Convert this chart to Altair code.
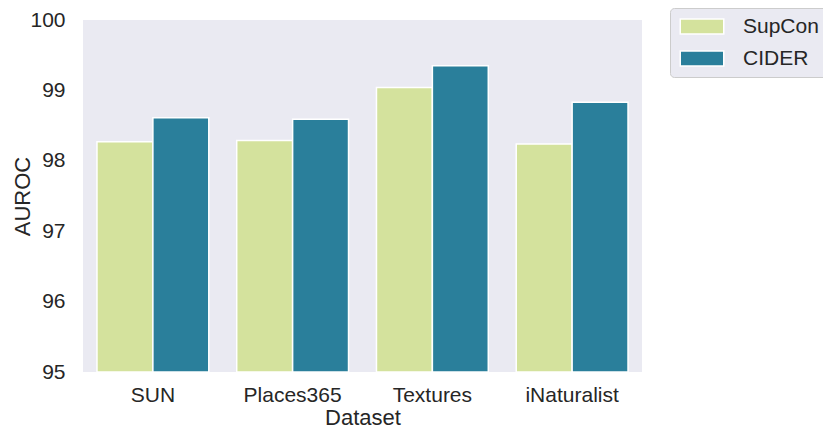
import altair as alt
import pandas as pd

datasets = ["SUN", "Places365", "Textures", "iNaturalist"]
methods = ["SupCon", "CIDER"]
supcon = [98.27, 98.29, 99.04, 98.24]
cider = [98.61, 98.59, 99.35, 98.83]
y_ticks = [95, 96, 97, 98, 99, 100]
colors = ["#d4e29d", "#2a7f9b"]

rows = []
for d, s, c in zip(datasets, supcon, cider):
    rows.append({"Dataset": d, "Method": "SupCon", "AUROC": s})
    rows.append({"Dataset": d, "Method": "CIDER", "AUROC": c})
df = pd.DataFrame(rows)

W, H = 559, 352
TOP = 12
FONT = "Liberation Sans"

chart = alt.Chart(df).mark_bar(stroke="white", strokeWidth=1.5).encode(
    x=alt.X("Dataset:N", sort=datasets,
            scale=alt.Scale(paddingInner=0.2, paddingOuter=0.1),
            axis=alt.Axis(title="Dataset", labelAngle=0, ticks=False, domain=False,
                          labelFontSize=21, titleFontSize=22, labelPadding=12,
                          titlePadding=2, labelColor="#262626", titleColor="#262626",
                          titleFontWeight="normal")),
    xOffset=alt.XOffset("Method:N", sort=methods, scale=alt.Scale(paddingInner=0, paddingOuter=0)),
    y=alt.Y("AUROC:Q", stack=None,
            scale=alt.Scale(domain=[95, 100], zero=False, nice=False, clamp=True),
            axis=alt.Axis(title="AUROC", values=y_ticks, ticks=False, domain=False, grid=False,
                          labelFontSize=21, titleFontSize=22, labelPadding=18,
                          titleAngle=270, titleX=-61, titleY=H / 2, titleAlign="center",
                          titleBaseline="middle",
                          labelColor="#262626", titleColor="#262626",
                          titleFontWeight="normal")),
    y2=alt.datum(95),
    color=alt.Color("Method:N", sort=methods,
                    scale=alt.Scale(domain=methods, range=colors),
                    legend=alt.Legend(title=None, orient="none", legendX=587, legendY=-TOP,
                                      symbolType="M-2.9,-1H2.9V1H-2.9Z", symbolSize=225,
                                      symbolOffset=13.5,
                                      symbolStrokeColor="white", symbolStrokeWidth=1.5,
                                      labelFontSize=21, labelOffset=30.5, labelColor="#262626",
                                      rowPadding=10, padding=8,
                                      fillColor="#eaeaf2", strokeColor="#cccccc",
                                      cornerRadius=4)),
).properties(
    width=W, height=H,
    autosize=alt.AutoSizeParams(type="none"),
    padding={"left": 75, "top": TOP, "right": 181, "bottom": 422 - TOP - H},
).configure(
    font=FONT
).configure_view(
    fill="#eaeaf2", stroke=None
)

chart.save("out.html", embed_options={"renderer": "svg", "actions": False})
